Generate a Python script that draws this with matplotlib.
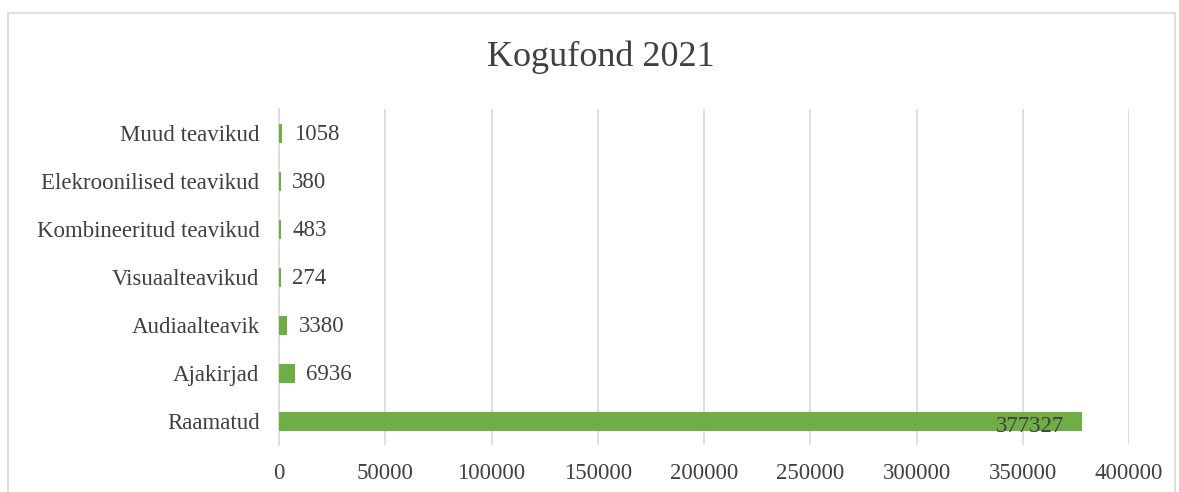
import matplotlib.pyplot as plt
import numpy as np

# Data
categories = ['Raamatud', 'Ajakirjad', 'Audiaalteavik', 'Visuaalteavikud',
              'Kombineeritud teavikud', 'Elekroonilised teavikud', 'Muud teavikud']
values = [377327, 6936, 3380, 274, 483, 380, 1058]
x_ticks = [0, 50000, 100000, 150000, 200000, 250000, 300000, 350000, 400000]

bar_color = '#70AD47'
text_color = '#404040'
grid_color = '#D9D9D9'

plt.rcParams['font.family'] = ['Liberation Serif', 'DejaVu Serif']

fig = plt.figure(figsize=(11.79, 4.92), dpi=100)
ax = fig.add_axes([279 / 1179, 1 - 445 / 492, (1129 - 279) / 1179, (445 - 109) / 492])

y = np.arange(len(categories))
ax.barh(y, values, height=0.36, color=bar_color, edgecolor=bar_color,
        linewidth=0.8, zorder=3)

ax.set_xlim(0, 400000)
ax.set_ylim(-0.5, len(categories) - 0.5)
ax.set_xticks(x_ticks)
ax.set_xticklabels([str(t) for t in x_ticks], fontsize=16.5, color=text_color)
ax.set_yticks(y)
ax.set_yticklabels(categories, fontsize=16.5, color=text_color)
ax.tick_params(axis='both', length=0)
ax.tick_params(axis='x', pad=13)
ax.tick_params(axis='y', pad=14)

ax.grid(axis='x', color=grid_color, linewidth=1.2, zorder=0)
for side in ['top', 'right', 'bottom']:
    ax.spines[side].set_visible(False)
ax.spines['left'].set_color(grid_color)
ax.spines['left'].set_linewidth(1.2)

# data labels
max_val = max(values)
for yi, v in zip(y, values):
    if v == max_val:
        ax.annotate(str(v), xy=(v, yi), xytext=(-12, -4), textcoords='offset points',
                    ha='right', va='center', fontsize=16.5, color=text_color, zorder=4)
    else:
        ax.annotate(str(v), xy=(v, yi), xytext=(9, -1), textcoords='offset points',
                    ha='left', va='center', fontsize=16.5, color=text_color, zorder=4)

fig.text(0.51, 1 - 57 / 492, 'Kogufond 2021', ha='center', va='center',
         fontsize=26, color=text_color)

# chart border
border = plt.Rectangle((8 / 1179, -0.05), (1175 - 8) / 1179, 1 - 13 / 492 + 0.05,
                       transform=fig.transFigure, fill=False,
                       edgecolor=grid_color, linewidth=1.2)
fig.patches.append(border)

fig.savefig('out.png', dpi=100)
